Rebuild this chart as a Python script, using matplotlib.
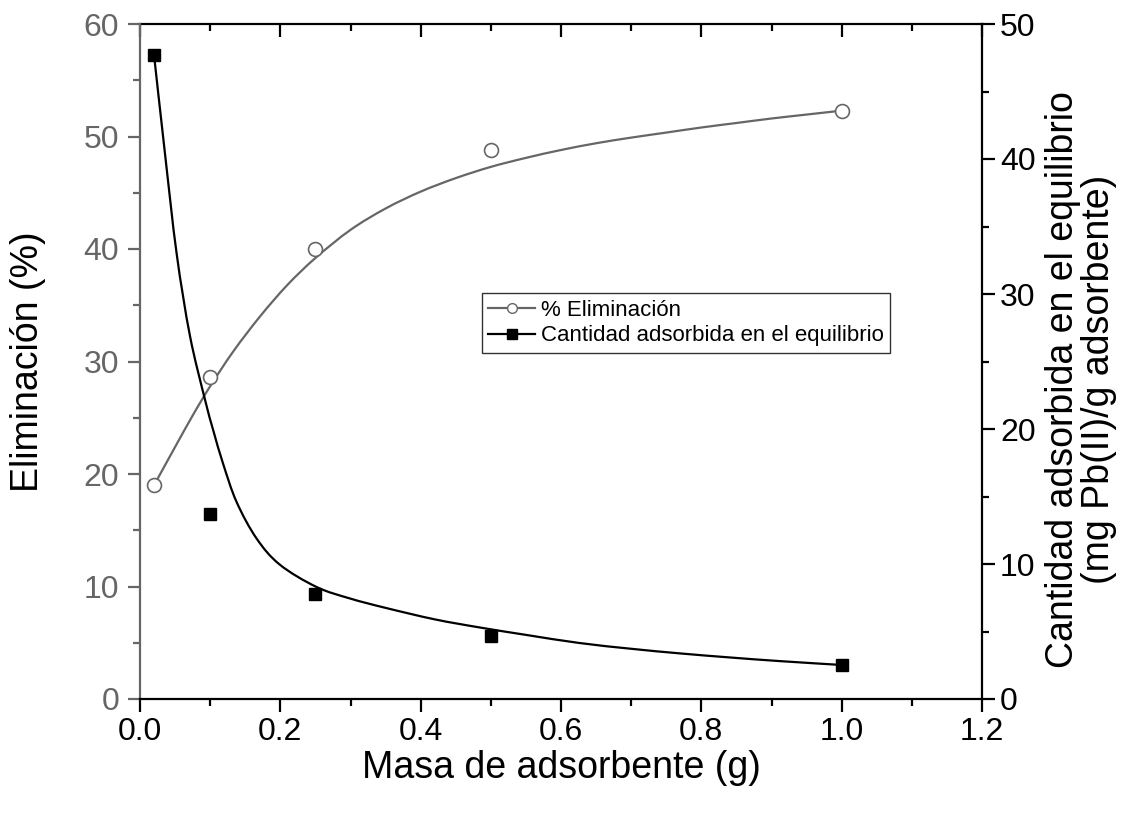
import matplotlib
matplotlib.use('Agg')
import matplotlib.pyplot as plt
from matplotlib.lines import Line2D
from matplotlib.path import Path
from matplotlib.patches import PathPatch
from matplotlib.ticker import MultipleLocator

plt.rcParams['font.family'] = ['Liberation Sans', 'DejaVu Sans']

# ---- data ----
masa = [0.02, 0.10, 0.25, 0.50, 1.00]
eliminacion = [19.0, 28.6, 40.0, 48.8, 52.3]
cantidad = [47.7, 13.7, 7.8, 4.7, 2.52]

# fitted curves
fit_x_elim = [0.02, 0.05, 0.076, 0.10, 0.133, 0.171, 0.21, 0.25, 0.30,
              0.35, 0.40, 0.45, 0.50, 0.55, 0.60, 0.65, 0.70, 0.75, 0.80,
              0.85, 0.90, 0.95, 1.00]
fit_elim = [19.0, 22.4, 25.3, 27.8, 30.9, 34.0, 36.8, 39.2, 41.7,
            43.6, 45.1, 46.3, 47.3, 48.1, 48.8, 49.4, 49.9, 50.35, 50.8,
            51.2, 51.6, 51.95, 52.3]

fit_x_cant = [0.02, 0.0356, 0.0522, 0.0712, 0.0925, 0.1044, 0.1186, 0.1376,
              0.166, 0.1993, 0.2515, 0.299, 0.35, 0.42, 0.484, 0.55, 0.626,
              0.70, 0.769, 0.84, 0.911, 1.00]
fit_cant = [47.7, 40.4, 33.0, 26.9, 22.2, 19.9, 17.4, 14.6,
            11.9, 9.95, 8.3, 7.45, 6.75, 5.9, 5.3, 4.75, 4.15,
            3.72, 3.38, 3.08, 2.81, 2.52]

xticks = [0.0, 0.2, 0.4, 0.6, 0.8, 1.0, 1.2]
xtick_labels = ['0.0', '0.2', '0.4', '0.6', '0.8', '1.0', '1.2']

GRAY = '#666666'
TICK_FS = 23
LABEL_FS = 27


def smooth_path(xs, ys):
    """Smooth (Catmull-Rom style) Bezier path through the read points."""
    pts = list(zip(xs, ys))
    n = len(pts)
    verts = [pts[0]]
    codes = [Path.MOVETO]
    for i in range(n - 1):
        p0 = pts[i - 1] if i > 0 else pts[i]
        p1 = pts[i]
        p2 = pts[i + 1]
        p3 = pts[i + 2] if i + 2 < n else pts[i + 1]
        c1 = (p1[0] + (p2[0] - p0[0]) / 6, p1[1] + (p2[1] - p0[1]) / 6)
        c2 = (p2[0] - (p3[0] - p1[0]) / 6, p2[1] - (p3[1] - p1[1]) / 6)
        verts += [c1, c2, p2]
        codes += [Path.CURVE4, Path.CURVE4, Path.CURVE4]
    return Path(verts, codes)


fig = plt.figure(figsize=(11.34, 8.15), dpi=100)
ax = fig.add_axes([140 / 1134, 1 - 699 / 815, 842 / 1134, 675 / 815])

ax.add_patch(PathPatch(smooth_path(fit_x_elim, fit_elim), fc='none',
                       ec=GRAY, lw=1.6, zorder=2))
ax.plot(masa, eliminacion, ls='none', marker='o', ms=10, mfc='white',
        mec=GRAY, mew=1.2, zorder=3)
ax.set_xlim(0, 1.2)
ax.set_ylim(0, 60)

ax2 = ax.twinx()
ax2.add_patch(PathPatch(smooth_path(fit_x_cant, fit_cant), fc='none',
                        ec='black', lw=1.6, zorder=2))
ax2.plot(masa, cantidad, ls='none', marker='s', ms=9, color='black', zorder=3)
ax2.set_ylim(0, 50)
ax2.set_xlim(0, 1.2)

# spines
ax.spines['top'].set_visible(False)
ax.spines['left'].set_color(GRAY)
ax.spines['left'].set_linewidth(1.6)
ax.spines['bottom'].set_linewidth(1.6)
ax.spines['right'].set_visible(False)
for s in ['left', 'top', 'bottom']:
    ax2.spines[s].set_visible(False)
ax2.spines['right'].set_linewidth(1.6)

# x ticks
ax.set_xticks(xticks)
ax.set_xticklabels(xtick_labels)
ax.xaxis.set_minor_locator(MultipleLocator(0.1))
ax.tick_params(axis='x', which='major', direction='out', length=9, width=1.6,
               labelsize=TICK_FS, pad=4, colors='black')
ax.tick_params(axis='x', which='minor', direction='out', length=5, width=1.6)

# top axis with inward ticks
top = ax.secondary_xaxis('top')
top.set_xticks(xticks)
top.xaxis.set_minor_locator(MultipleLocator(0.1))
top.tick_params(axis='x', which='major', direction='in', length=9, width=1.6,
                labeltop=False)
top.tick_params(axis='x', which='minor', direction='in', length=5, width=1.6)
top.spines['top'].set_linewidth(1.6)

# left y ticks
ax.yaxis.set_major_locator(MultipleLocator(10))
ax.yaxis.set_minor_locator(MultipleLocator(5))
ax.tick_params(axis='y', which='major', direction='out', length=9, width=1.6,
               labelsize=TICK_FS, pad=6, colors=GRAY)
ax.tick_params(axis='y', which='minor', direction='out', length=5, width=1.6,
               colors=GRAY)

# right y ticks
ax2.yaxis.set_major_locator(MultipleLocator(10))
ax2.yaxis.set_minor_locator(MultipleLocator(5))
ax2.tick_params(axis='y', which='major', direction='out', length=9, width=1.6,
                labelsize=TICK_FS, pad=4, colors='black')
ax2.tick_params(axis='y', which='minor', direction='out', length=5, width=1.6)

# labels
ax.set_xlabel('Masa de adsorbente (g)', fontsize=LABEL_FS)
ax.xaxis.set_label_coords(0.5, -0.102)
ax.xaxis.label.set_va('center')
ax.set_ylabel('Eliminación (%)', fontsize=LABEL_FS, color='black')
ax.yaxis.set_label_coords(-0.133, 0.5)
ax.yaxis.label.set_va('center')
ax2.set_ylabel('Cantidad adsorbida en el equilibrio\n(mg Pb(II)/g adsorbente)',
               fontsize=LABEL_FS, linespacing=1.0, multialignment='center')
ax2.yaxis.set_label_coords(1.117, 0.473)
ax2.yaxis.label.set_va('center')

# legend
handles = [
    Line2D([], [], color=GRAY, lw=1.6, marker='o', ms=7, mfc='white',
           mec=GRAY, mew=1.0),
    Line2D([], [], color='black', lw=1.6, marker='s', ms=7),
]
leg = ax2.legend(handles, ['% Eliminación', 'Cantidad adsorbida en el equilibrio'],
                 loc='upper left', bbox_to_anchor=(0.4058, 0.601),
                 borderaxespad=0, fontsize=16, frameon=True, fancybox=False,
                 edgecolor='black', handlelength=2.1, handletextpad=0.25,
                 labelspacing=0.2, borderpad=0.3)
leg.get_frame().set_linewidth(1.0)

fig.savefig('out.png', dpi=100)
